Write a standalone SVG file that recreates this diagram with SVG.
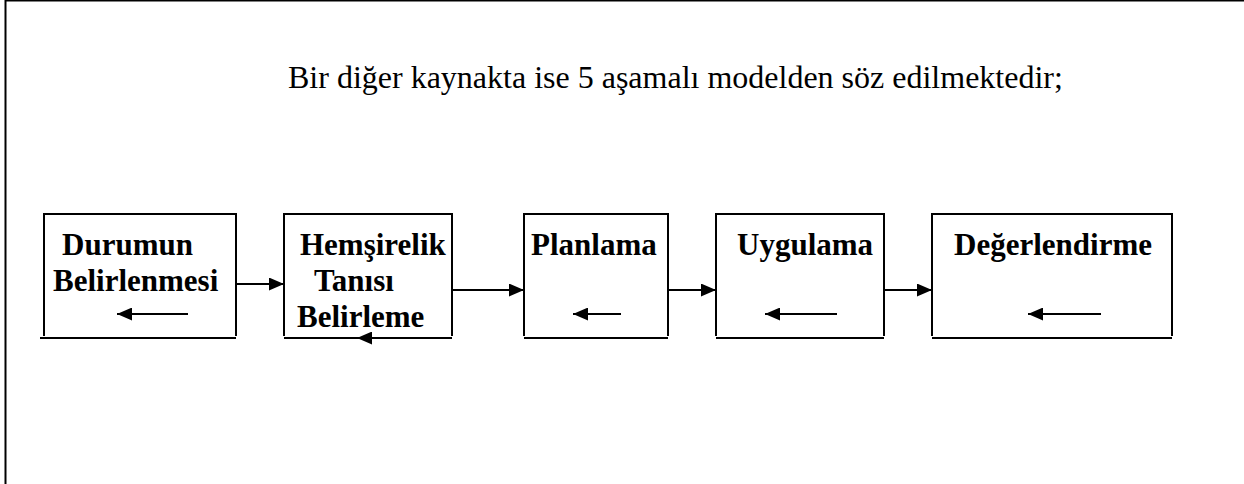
<svg xmlns="http://www.w3.org/2000/svg" width="1244" height="484" viewBox="0 0 1244 484">
<defs>
<marker id="ah" markerWidth="15" markerHeight="13" refX="15" refY="6.5" orient="auto" markerUnits="userSpaceOnUse">
<path d="M0,0 L15,6.5 L0,13 Z" fill="#000"/>
</marker>
<style>
.box{fill:none;stroke:#000;stroke-width:2}
.base{stroke:#000;stroke-width:2}
.lbl{font-family:"Liberation Serif","Times New Roman",serif;font-weight:bold;font-size:31px;fill:#000}
.title{font-family:"Liberation Serif","Times New Roman",serif;font-size:32px;fill:#000}
.con{stroke:#000;stroke-width:2;fill:none;marker-end:url(#ah)}
</style>
</defs>
<rect width="1244" height="484" fill="#fff"/>
<g id="frame">
<line x1="5.5" y1="0" x2="5.5" y2="484" stroke="#000" stroke-width="2"/>
<line x1="5" y1="0.5" x2="1244" y2="0.5" stroke="#000" stroke-width="2"/>
</g>
<text class="title" x="288" y="88">Bir diğer kaynakta ise 5 aşamalı modelden söz edilmektedir;</text>
<g id="node1">
<path class="box" d="M44,336 V214 H236 V336"/>
<line class="base" x1="40" y1="338" x2="236" y2="338"/>
<text class="lbl" x="62" y="255">Durumun</text>
<text class="lbl" x="53" y="291">Belirlenmesi</text>
<line class="con" x1="188" y1="314" x2="117" y2="314"/>
</g>
<g id="node2">
<path class="box" d="M284,336 V214 H452 V336"/>
<line class="base" x1="284" y1="338" x2="452" y2="338"/>
<text class="lbl" x="300" y="255">Hemşirelik</text>
<text class="lbl" x="314" y="291">Tanısı</text>
<text class="lbl" x="297" y="327">Belirleme</text>
<line class="con" x1="405" y1="338" x2="357" y2="338"/>
</g>
<g id="node3">
<path class="box" d="M524,336 V214 H668 V336"/>
<line class="base" x1="524" y1="338" x2="668" y2="338"/>
<text class="lbl" x="531" y="255">Planlama</text>
<line class="con" x1="621" y1="314" x2="573" y2="314"/>
</g>
<g id="node4">
<path class="box" d="M716,336 V214 H884 V336"/>
<line class="base" x1="716" y1="338" x2="884" y2="338"/>
<text class="lbl" x="737" y="255">Uygulama</text>
<line class="con" x1="837" y1="314" x2="765" y2="314"/>
</g>
<g id="node5">
<path class="box" d="M932,336 V214 H1172 V336"/>
<line class="base" x1="932" y1="338" x2="1172" y2="338"/>
<text class="lbl" x="954" y="255">Değerlendirme</text>
<line class="con" x1="1101" y1="314" x2="1028" y2="314"/>
</g>
<g id="connectors">
<line class="con" x1="236" y1="284" x2="284" y2="284"/>
<line class="con" x1="452" y1="290" x2="524" y2="290"/>
<line class="con" x1="668" y1="290" x2="716" y2="290"/>
<line class="con" x1="884" y1="290" x2="932" y2="290"/>
</g>
</svg>
